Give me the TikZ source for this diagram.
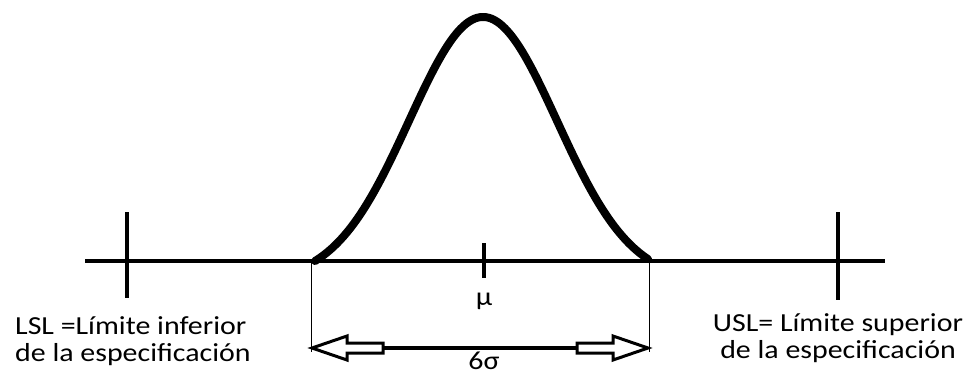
\documentclass[tikz,border=0pt]{standalone}
\usepackage{fontspec}
\setmainfont{Carlito}[FakeStretch=1.15]
\begin{document}
\begin{tikzpicture}[x=1pt,y=-1pt,
  axisline/.style={line width=4pt},
  tickline/.style={line width=4pt},
  curveline/.style={line width=8pt,line cap=round,line join=round},
  dimline/.style={line width=1pt},
  hollowarrow/.style={line width=3pt,fill=white,line join=miter},
  lbl/.style={font=\fontsize{26}{27}\selectfont,inner sep=0pt,align=center}]
\useasboundingbox (0,0) rectangle (968,375);
% axis
\coordinate (axL) at (85,261);
\coordinate (axR) at (885,261);
\draw[axisline] (axL) -- (axR);
% ticks
\coordinate (lslT) at (127,212); \coordinate (lslB) at (127,298);
\coordinate (uslT) at (838,212); \coordinate (uslB) at (838,300);
\coordinate (muT) at (484,243); \coordinate (muB) at (484,278);
\draw[tickline] (lslT) -- (lslB);
\draw[tickline] (uslT) -- (uslB);
\draw[tickline] (muT) -- (muB);
% bell curve
\draw[curveline,domain=315:648,samples=120,smooth]
  plot (\x,{261-244*(exp(-0.5*((\x-483)/74)^2)-0.076)/(1-0.076)});
% dimension lines
\coordinate (dL0) at (311,261); \coordinate (dL1) at (311,352);
\coordinate (dR0) at (649,261); \coordinate (dR1) at (649,352);
\draw[dimline] (dL0) -- (dL1);
\draw[dimline] (dR0) -- (dR1);
% arrow shaft
\coordinate (sL) at (383,348); \coordinate (sR) at (577,348);
\draw[line width=4pt] (sL) -- (sR);
% hollow arrows
\draw[hollowarrow] (312,348) -- (347,336) -- (347,343) -- (383,343) -- (383,353) -- (347,353) -- (347,360) -- cycle;
\draw[hollowarrow] (648,348) -- (613,336) -- (613,343) -- (577,343) -- (577,353) -- (613,353) -- (613,360) -- cycle;
% labels
\node[lbl] (mu) at (484,301) {μ};
\node[lbl,anchor=base] (sig) at (484,369) {6σ};
\node[lbl,align=left,anchor=west] (lsl) at (15,341) {LSL =Límite inferior\\de la especificación};
\node[lbl] (usl) at (838,338) {USL= Límite superior\\de la especificación};
\end{tikzpicture}
\end{document}
